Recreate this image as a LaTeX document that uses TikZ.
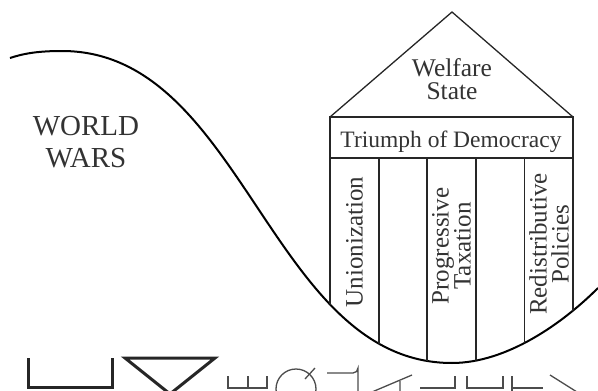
\documentclass[tikz,border=0pt]{standalone}
\usepackage{fontspec}
\setmainfont{Liberation Serif}
\begin{document}
\begin{tikzpicture}[x=1pt,y=-1pt,
  curveline/.style={line width=2pt,black},
  house/.style={line width=1.3pt,black!85},
  lbl/.style={text=black!80,inner sep=0pt},
  frag/.style={line width=1.3pt,black!70},
  fragthick/.style={line width=3pt,black!85}]
\useasboundingbox (0,0) rectangle (598,391);
% wave
\draw[curveline] (10,58) .. controls (25,53) and (40,51) .. (62,51)
  .. controls (244,51) and (270,363) .. (452,363)
  .. controls (507,363) and (563,323) .. (598,288);
% house roof and band
\draw[house] (330,117) -- (452,12) -- (573,117);
\draw[house] (330,117) rectangle (573,158);
% columns clipped by wave
\begin{scope}
\clip (10,58) .. controls (25,53) and (40,51) .. (62,51)
  .. controls (244,51) and (270,363) .. (452,363)
  .. controls (507,363) and (563,323) .. (598,288) -- (598,0) -- (0,0) -- (0,58) -- cycle;
\foreach \cx in {330,379,427,476,524.5,573} \draw[house] (\cx,158) -- (\cx,400);
\end{scope}
% texts
\node[lbl,anchor=base,align=center,font=\fontsize{29}{32}\selectfont] (ww) at (86,167) {WORLD\\WARS};
\node[lbl,anchor=base,align=center,font=\fontsize{25.5}{23}\selectfont] (ws) at (452,99) {Welfare\\State};
\node[lbl,anchor=base,font=\fontsize{23.5}{26}\selectfont] (td) at (451,147) {Triumph of Democracy};
\node[lbl,rotate=90,font=\fontsize{25}{22}\selectfont] (un) at (354.5,242) {Unionization};
\node[lbl,rotate=90,align=center,font=\fontsize{25}{22}\selectfont] (pt) at (451.5,246) {Progressive\\Taxation};
\node[lbl,rotate=90,align=center,font=\fontsize{25}{22}\selectfont] (rp) at (549,244) {Redistributive\\Policies};
% cut-off letter fragments at the bottom
\draw[fragthick] (28,358) -- (28,387) -- (112,387) -- (112,358);
\draw[fragthick] (125,358) -- (215,358) -- (170,394) -- cycle;
\draw[frag] (228,376) -- (228,388) -- (267,388) -- (267,376) (248,376) -- (248,388);
\draw[frag] (296,389) circle (20);
\draw[frag] (305,379) -- (315,368);
\draw[frag] (327,373) -- (353,373) arc (90:0:5) -- (358,392);
\draw[frag] (372,392) -- (412,375) (400,381) -- (400,392);
\draw[frag] (420,388) -- (455,388) -- (455,376);
\draw[frag] (467,376) -- (467,388) -- (503,388) -- (503,376);
\draw[frag] (512,376) -- (512,392) (512,388) -- (543,388);
\draw[frag] (550,375) -- (577,392);
\end{tikzpicture}
\end{document}
